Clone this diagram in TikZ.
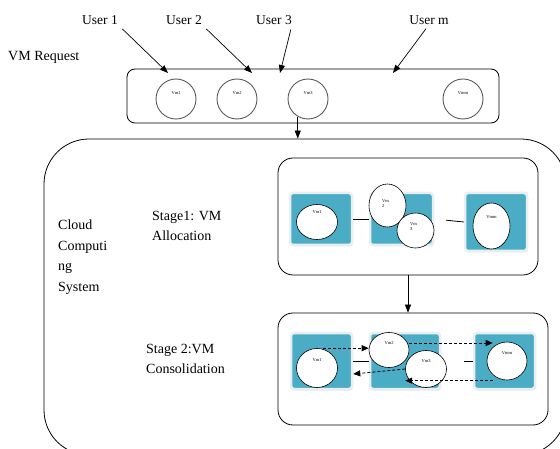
\documentclass[tikz,border=0pt]{standalone}
\usepackage{fontspec}
\setmainfont{Liberation Serif}
\usetikzlibrary{arrows.meta,shapes.geometric,shadows}
\definecolor{vmteal}{HTML}{4BACC6}
\definecolor{vmframe}{HTML}{E9EEF1}
\tikzset{
  arr/.style={-{Triangle[length=8pt,width=6pt]},line width=0.7pt},
  dasharr/.style={-{Triangle[length=7pt,width=6pt]},line width=0.8pt,dash pattern=on 3pt off 2pt},
  panel/.style={draw,line width=0.8pt,rounded corners=#1,inner sep=0pt},
  hostbox/.style={fill=vmteal,draw=vmframe,line width=2.5pt,rounded corners=3pt,inner sep=0pt,
    drop shadow={opacity=0.2,shadow xshift=1pt,shadow yshift=-1.5pt}},
  vm/.style={ellipse,draw,fill=white,line width=0.6pt,inner sep=0pt},
  reqvm/.style={circle,draw=black!65,line width=0.9pt,minimum size=40pt,inner sep=0pt},
  vmtxt/.style={font=\fontsize{4.5}{5}\selectfont,align=left,inner sep=0pt},
  lbl/.style={font=\fontsize{14}{20.5}\selectfont,align=left,inner sep=0pt,anchor=west},
  user/.style={font=\fontsize{13.5}{16}\selectfont,inner sep=0pt},
}

\begin{document}
\begin{tikzpicture}[x=1pt,y=-1pt]

\useasboundingbox (0,0) rectangle (560,449);
\clip (0,0) rectangle (560,449);

% users and the request box
\node[user] (u1) at (100,20) {User 1};
\node[user] (u2) at (184,20) {User 2};
\node[user] (u3) at (274,20) {User 3};
\node[user] (um) at (429,20) {User m};
\node[lbl] (vmreq) at (8,57) {VM Request};

\node[panel=8pt,minimum width=372pt,minimum height=54pt] (req) at (313,96) {};
\node[reqvm,label={[vmtxt,yshift=6pt]center:Vm1}] (r1) at (176,99) {};
\node[reqvm,label={[vmtxt,yshift=6pt]center:Vm2}] (r2) at (237,99) {};
\node[reqvm,label={[vmtxt,yshift=6pt]center:Vm3}] (r3) at (308,99) {};
\node[reqvm,label={[vmtxt,yshift=6pt]center:Vmm}] (rm) at (463,99) {};

\coordinate (t1) at (168,73);
\coordinate (t2) at (252,73);
\coordinate (t3) at (280,73);
\coordinate (tm) at (393,73);

\draw[arr,shorten <=6pt] (u1.south east) -- (t1);
\draw[arr,shorten <=6pt] (u2.south east) -- (t2);
\draw[arr,shorten <=5pt] (u3.south east) -- (t3);
\draw[arr,shorten <=5pt] (um.south) -- (tm);

% cloud computing system
\node[panel=45pt,minimum width=522pt,minimum height=316pt] (cloud) at (305,297) {};
\draw[arr] (r3.-120) -- (r3.-120 |- cloud.north);

\node[lbl] (ccs) at (58,257) {Cloud\\Computi\\ng\\System};
\node[lbl] (st1) at (152,226) {Stage1: VM\\Allocation};
\node[lbl] (st2) at (146,359) {Stage 2:VM\\Consolidation};

\node[panel=15pt,minimum width=260pt,minimum height=117pt] (s1) at (408,216.5) {};
\node[panel=15pt,minimum width=270pt,minimum height=112pt] (s2) at (413,369) {};
\draw[arr] (s1.south) -- (s1.south |- s2.north);

% stage 1
\node[hostbox,minimum width=62pt,minimum height=52pt] (a1) at (321,219) {};
\node[hostbox,minimum width=63pt,minimum height=52pt] (b1) at (401.5,219) {};
\node[hostbox,minimum width=62pt,minimum height=58pt] (c1) at (496,222) {};

\node[vm,minimum width=41pt,minimum height=35pt,label={[vmtxt,yshift=10pt]center:Vm1}] (v11) at (317,222) {};
\node[vm,minimum width=37pt,minimum height=43pt,label={[vmtxt,xshift=-2pt,yshift=2pt]center:Vm\\2}] (v12) at (387.5,205.5) {};
\node[vm,minimum width=37pt,minimum height=35pt,label={[vmtxt,xshift=-2pt,yshift=4pt]center:Vm\\3}] (v13) at (415.5,230.5) {};
\node[vm,minimum width=37pt,minimum height=46pt,label={[vmtxt,yshift=9pt]center:Vmm}] (v1m) at (491.5,226) {};

\draw[line width=0.8pt] (a1.east) -- (b1.west);
\draw[line width=0.8pt,shorten <=12pt] (b1.east) -- (c1.west);

% stage 2
\node[hostbox,minimum width=61pt,minimum height=56pt] (a2) at (321.5,361) {};
\node[hostbox,minimum width=70pt,minimum height=56pt] (b2) at (405,361) {};
\node[hostbox,minimum width=61pt,minimum height=56pt] (c2) at (504.5,361) {};

\draw[line width=0.8pt] (a2.east) -- (b2.west);
\draw[line width=0.8pt,shorten <=23pt] (b2.east) -- (c2.west);

\node[vm,minimum width=41pt,minimum height=39pt,label={[vmtxt,yshift=8pt]center:Vm1}] (v21) at (317,368) {};
\node[vm,minimum width=40pt,minimum height=35pt,label={[vmtxt,yshift=7pt]center:Vm2}] (v22) at (389,350) {};
\node[vm,minimum width=41pt,minimum height=37pt,label={[vmtxt,yshift=8pt]center:Vm3}] (v23) at (426,369) {};
\node[vm,minimum width=40pt,minimum height=38pt,label={[vmtxt,yshift=8pt]center:Vmm}] (v2m) at (507,361) {};

\draw[dasharr] ([xshift=6pt]v21.north) -- (v22.west |- v21.north);
\draw[dasharr] ([yshift=7pt]v22.east) -- ([yshift=7pt]v22.east -| v2m.north west);
\draw[dasharr] (v23.west) -- ([yshift=-13pt]a2.east);
\draw[dasharr] ([yshift=-6pt]v2m.south west) -- ([yshift=-6pt]v2m.south west -| v23.west);

\end{tikzpicture}
\end{document}
